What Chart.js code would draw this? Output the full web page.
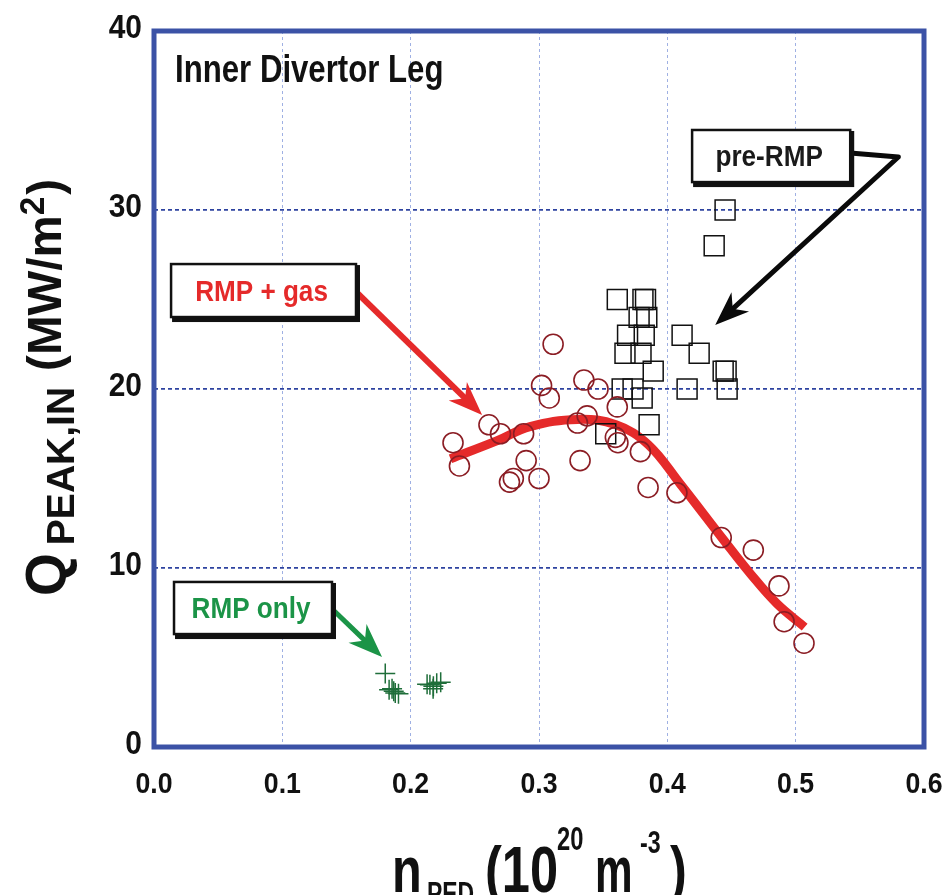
<!DOCTYPE html>
<html>
<head>
<meta charset="utf-8">
<script src="https://cdn.jsdelivr.net/npm/chart.js@4/dist/chart.umd.min.js"></script>
<style>
  html, body { margin: 0; padding: 0; background: #fff; }
  #chart { display: block; }
</style>
</head>
<body>
<canvas id="chart" width="946" height="895"></canvas>
<script>
// values
const xTickLabels = ["0.0", "0.1", "0.2", "0.3", "0.4", "0.5", "0.6"];
const yTickLabels = ["0", "10", "20", "30", "40"];

// pre-RMP (open squares)
const preRmpX = [0.445, 0.4365, 0.361, 0.381, 0.383, 0.378, 0.384, 0.369, 0.382, 0.4115,
  0.367, 0.3795, 0.4248, 0.389, 0.4435, 0.4458, 0.3648, 0.3733, 0.4154, 0.4466, 0.3804, 0.3858, 0.352];
const preRmpY = [30.0, 28.0, 25.0, 25.0, 25.0, 24.0, 24.0, 23.0, 23.0, 23.0,
  22.0, 22.0, 22.0, 21.0, 21.0, 21.0, 20.0, 20.0, 20.0, 20.0, 19.5, 18.0, 17.5];

// RMP + gas (open circles)
const rmpGasX = [0.233, 0.238, 0.261, 0.270, 0.277, 0.280, 0.288, 0.290, 0.300, 0.302,
  0.308, 0.311, 0.330, 0.332, 0.335, 0.3375, 0.346, 0.3595, 0.3615, 0.361,
  0.379, 0.385, 0.4075, 0.442, 0.467, 0.487, 0.491, 0.5065];
const rmpGasY = [17.0, 15.7, 18.0, 17.5, 14.8, 15.0, 17.5, 16.0, 15.0, 20.2,
  19.5, 22.5, 18.1, 16.0, 20.5, 18.5, 20.0, 17.3, 17.0, 19.0,
  16.5, 14.5, 14.2, 11.7, 11.0, 9.0, 7.0, 5.8];

// RMP only (crosses)
const rmpOnlyX = [0.1802, 0.1832, 0.1855, 0.1868, 0.188, 0.1905, 0.2128, 0.215, 0.2177, 0.2203, 0.2234, 0.2175];
const rmpOnlyY = [4.1, 3.2, 3.25, 3.12, 3.02, 2.98, 3.5, 3.48, 3.4, 3.56, 3.62, 3.25];

// red fit curve through RMP + gas
const fitX = [0.231, 0.267, 0.293, 0.330, 0.360, 0.385, 0.410, 0.4435, 0.4645, 0.4855, 0.507];
const fitY = [16.1, 17.1, 17.9, 18.3, 18.0, 16.9, 14.7, 11.6, 9.7, 8.0, 6.7];

const toPoints = (xs, ys) => xs.map((x, i) => ({ x, y: ys[i] }));

const RED = "#e52a2a";
const GREEN = "#1b9447";
const FONT = '"Liberation Sans", Arial, sans-serif';

function drawText(ctx, str, x, y, size, color, align, sx) {
  ctx.save();
  ctx.font = `bold ${size}px ${FONT}`;
  ctx.fillStyle = color;
  ctx.textBaseline = "alphabetic";
  ctx.textAlign = "left";
  const w = ctx.measureText(str).width * sx;
  const x0 = align === "center" ? x - w / 2 : align === "right" ? x - w : x;
  ctx.translate(x0, y);
  ctx.scale(sx, 1);
  ctx.fillText(str, 0, 0);
  ctx.restore();
  return w;
}

function drawArrow(ctx, pts, color, lw, headLen, headW) {
  const n = pts.length;
  const [tx, ty] = pts[n - 1];
  const [px, py] = pts[n - 2];
  const len = Math.hypot(tx - px, ty - py);
  const dx = (tx - px) / len, dy = (ty - py) / len;
  ctx.save();
  ctx.strokeStyle = color;
  ctx.fillStyle = color;
  ctx.lineWidth = lw;
  ctx.lineJoin = "round";
  ctx.beginPath();
  ctx.moveTo(pts[0][0], pts[0][1]);
  for (let i = 1; i < n - 1; i++) ctx.lineTo(pts[i][0], pts[i][1]);
  ctx.lineTo(tx - dx * headLen * 0.6, ty - dy * headLen * 0.6);
  ctx.stroke();
  ctx.beginPath();
  ctx.moveTo(tx, ty);
  ctx.lineTo(tx - dx * headLen - dy * headW, ty - dy * headLen + dx * headW);
  ctx.lineTo(tx - dx * headLen * 0.7, ty - dy * headLen * 0.7);
  ctx.lineTo(tx - dx * headLen + dy * headW, ty - dy * headLen - dx * headW);
  ctx.closePath();
  ctx.fill();
  ctx.restore();
}

function drawBox(ctx, x0, y0, x1, y1) {
  ctx.save();
  ctx.fillStyle = "#111";
  ctx.fillRect(x0 + 1, y0 + 1, x1 - x0 + 3, y1 - y0 + 4);
  ctx.fillStyle = "#fff";
  ctx.fillRect(x0, y0, x1 - x0, y1 - y0);
  ctx.strokeStyle = "#111";
  ctx.lineWidth = 2.5;
  ctx.strokeRect(x0, y0, x1 - x0, y1 - y0);
  ctx.restore();
}

// annotation boxes and arrows, in data units
const notes = [
  { text: "RMP + gas", color: RED, box: [0.0133, 26.98, 0.1574, 24.02],
    arrow: [[0.155, 25.6], [0.2557, 18.55]], arrowColor: RED, lw: 6 },
  { text: "pre-RMP", color: "#1a1a1a", box: [0.4193, 34.47, 0.5425, 31.56],
    arrow: [[0.5425, 33.18], [0.580, 32.96], [0.4373, 23.58]], arrowColor: "#0a0a0a", lw: 5 },
  { text: "RMP only", color: GREEN, box: [0.0156, 9.22, 0.1387, 6.31],
    arrow: [[0.1372, 7.82], [0.1777, 5.03]], arrowColor: GREEN, lw: 5 },
];

const decor = {
  id: "decor",
  afterDatasetsDraw(chart) {
    const { ctx, chartArea: a, scales: { x: xs, y: ys } } = chart;
    const P = (x, y) => [xs.getPixelForValue(x), ys.getPixelForValue(y)];

    // arrows then boxes
    notes.forEach((n) => {
      drawArrow(ctx, n.arrow.map((p) => P(p[0], p[1])), n.arrowColor, n.lw, 34, 13);
    });
    notes.forEach((n) => {
      const [x0, y0] = P(n.box[0], n.box[1]);
      const [x1, y1] = P(n.box[2], n.box[3]);
      drawBox(ctx, x0, y0, x1, y1);
      drawText(ctx, n.text, (x0 + x1) / 2 - 2, (y0 + y1) / 2 + 10, 29, n.color, "center", 0.9);
    });

    // panel title
    const [tx, ty] = P(0.0164, 37.15);
    drawText(ctx, "Inner Divertor Leg", tx, ty, 38, "#111", "left", 0.82);

    // frame
    ctx.save();
    ctx.strokeStyle = "#3b52a6";
    ctx.lineWidth = 5;
    ctx.strokeRect(a.left, a.top, a.right - a.left, a.bottom - a.top);
    ctx.restore();

    // tick labels
    xTickLabels.forEach((t) => {
      drawText(ctx, t, xs.getPixelForValue(parseFloat(t)), a.bottom + 46, 29, "#111", "center", 0.92);
    });
    yTickLabels.forEach((t) => {
      drawText(ctx, t, a.left - 12, ys.getPixelForValue(parseFloat(t)) + 7, 34, "#111", "right", 0.88);
    });

    // x axis title
    const bx = 892;
    drawText(ctx, "n", 392, bx, 64, "#111", "left", 0.76);
    drawText(ctx, "PED", 427, bx + 12, 31, "#111", "left", 0.74);
    drawText(ctx, "(10", 485, bx, 64, "#111", "left", 0.79);
    drawText(ctx, "20", 557, 850, 33, "#111", "left", 0.72);
    drawText(ctx, "m", 595, bx, 64, "#111", "left", 0.66);
    drawText(ctx, "-3", 640, 853, 31, "#111", "left", 0.75);
    drawText(ctx, ")", 670, bx, 64, "#111", "left", 0.79);

    // y axis title, rotated (baseline argument becomes screen x)
    ctx.save();
    ctx.translate(0, 596);
    ctx.rotate(-Math.PI / 2);
    let u = 0;
    u += drawText(ctx, "Q", u, 66, 58, "#111", "left", 0.95);
    u += 8;
    u += drawText(ctx, "PEAK,IN", u, 74, 39, "#111", "left", 1.0);
    u += 16;
    u += drawText(ctx, "(MW/m", u, 61, 49, "#111", "left", 0.97);
    u += drawText(ctx, "2", u, 44, 35, "#111", "left", 0.95);
    u += 2;
    drawText(ctx, ")", u, 61, 49, "#111", "left", 0.97);
    ctx.restore();
  },
};

new Chart(document.getElementById("chart"), {
  type: "scatter",
  data: {
    datasets: [
      {
        label: "RMP + gas",
        data: toPoints(rmpGasX, rmpGasY),
        pointStyle: "circle",
        pointRadius: 10,
        pointBorderWidth: 1.6,
        borderColor: "#8b1d24",
        backgroundColor: "rgba(0,0,0,0)",
        order: 1,
      },
      {
        label: "pre-RMP",
        data: toPoints(preRmpX, preRmpY),
        pointStyle: "rect",
        pointRadius: 14.1,
        pointBorderWidth: 1.5,
        borderColor: "#111",
        backgroundColor: "rgba(0,0,0,0)",
        order: 2,
      },
      {
        label: "RMP only",
        data: toPoints(rmpOnlyX, rmpOnlyY),
        pointStyle: "cross",
        pointRadius: 10,
        pointBorderWidth: 1.5,
        borderColor: "#1f6e3a",
        order: 2,
      },
      {
        label: "fit",
        type: "line",
        data: toPoints(fitX, fitY),
        showLine: true,
        borderColor: RED,
        borderWidth: 9,
        pointRadius: 0,
        tension: 0.4,
        fill: false,
        order: 3,
      },
    ],
  },
  options: {
    responsive: false,
    animation: false,
    events: [],
    layout: { padding: { left: 154, right: 22, top: 31, bottom: 148 } },
    plugins: { legend: { display: false }, tooltip: { enabled: false } },
    scales: {
      x: {
        type: "linear",
        min: 0,
        max: 0.6,
        ticks: { stepSize: 0.1, display: false },
        border: { display: false, dash: [3, 3] },
        grid: { color: "#9fb0e3", lineWidth: 1, drawTicks: false },
      },
      y: {
        type: "linear",
        min: 0,
        max: 40,
        ticks: { stepSize: 10, display: false },
        border: { display: false, dash: [4, 3] },
        grid: { color: "#2e43a0", lineWidth: 1.8, drawTicks: false },
      },
    },
  },
  plugins: [decor],
});
</script>
</body>
</html>
